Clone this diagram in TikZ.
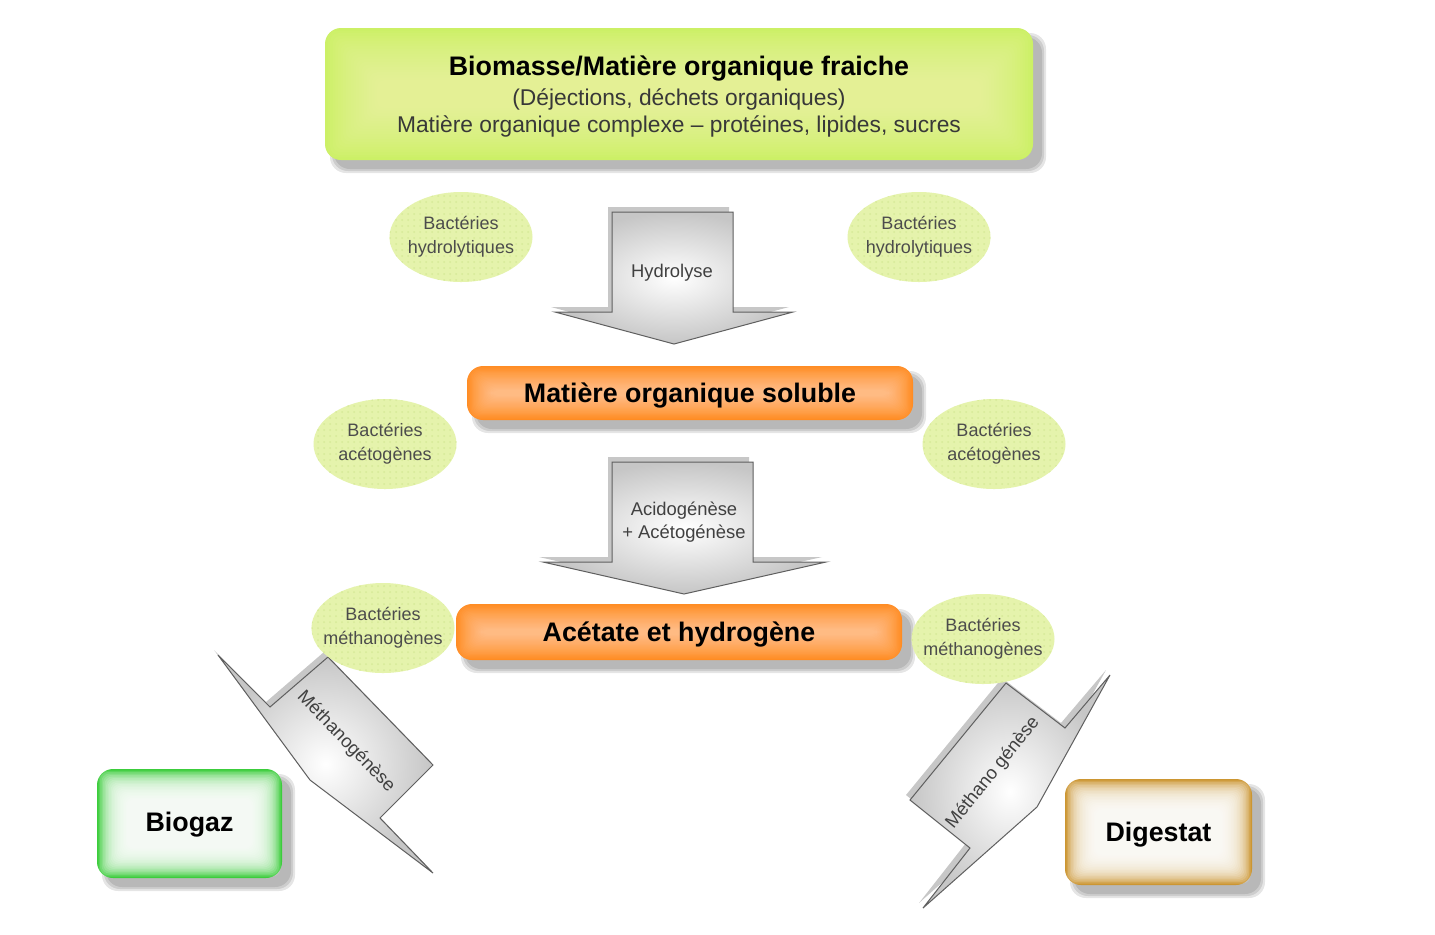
\documentclass[tikz,border=0pt]{standalone}
\usepackage{fontspec}
\setmainfont{Liberation Sans}
\usetikzlibrary{calc,shapes.geometric,patterns}
\pgfdeclarelayer{bg}
\pgfsetlayers{bg,main}
\definecolor{limeC}{RGB}{204,240,102}
\definecolor{limeG}{RGB}{250,250,185}
\definecolor{orangeC}{RGB}{255,140,35}
\definecolor{greenC}{RGB}{60,205,60}
\definecolor{brownC}{RGB}{204,150,50}
\definecolor{bactC}{RGB}{229,243,172}
\definecolor{bactD}{RGB}{214,234,152}
\definecolor{arrowE}{RGB}{95,95,95}
\newcommand\fs[2]{\fontsize{#1}{#2}\selectfont}
\newcommand\glowbox[5]{%
 \begin{pgfonlayer}{bg}
 \foreach \s in {0,2,4}{\fill[black,opacity=0.1,rounded corners=8pt] ($(#1.north west)+(9-\s,9-\s)$) rectangle ($(#1.south east)+(9+\s,9+\s)$);}
 \fill[#2,rounded corners=8pt] (#1.north west) rectangle (#1.south east);
 \foreach \i in {1,...,20}{\fill[#3,opacity=#4,rounded corners=4pt] ($(#1.north west)+(#5*\i,#5*\i)$) rectangle ($(#1.south east)-(#5*\i,#5*\i)$);}
 \end{pgfonlayer}}
\newcommand\blockarrow[1]{%
 \fill[black,opacity=0.22,shift={(-4,-5)}] #1;
 \shade[inner color=white,outer color=gray!45,draw=arrowE,line width=0.5pt] #1;}
\begin{document}
\begin{tikzpicture}[x=0.5pt,y=-0.5pt,
  boxnode/.style={rectangle,inner sep=0pt,outer sep=0pt},
  boxtxt/.style={inner sep=0pt,font=\fs{13.4}{16}\bfseries,text=black},
  bact/.style={ellipse,fill=bactC,postaction={pattern=dots,pattern color=bactD},minimum width=71.5pt,minimum height=45pt,inner sep=-12pt,align=center,font=\fs{9}{12},text=black!70},
  arrowtxt/.style={align=center,font=\fs{9.2}{11.5},text=black!75,inner sep=0pt}]
\useasboundingbox (0,0) rectangle (1435,934);
\begin{pgfonlayer}{bg}
\fill[white] (0,0) rectangle (1435,934);
\end{pgfonlayer}

% boxes
\node[boxnode,minimum width=354pt,minimum height=66pt] (biomasse) at (679,94) {};
\node[boxtxt] (t1) at (679,69) {Biomasse/Matière organique fraiche};
\node[font=\fs{11.4}{14},text=black!78,inner sep=0pt] (t2) at (679,99) {(Déjections, déchets organiques)};
\node[font=\fs{11.4}{14},text=black!78,inner sep=0pt] (t3) at (679,126) {Matière organique complexe -- protéines, lipides, sucres};
\glowbox{biomasse}{limeC}{limeG}{0.05}{2.6}

\node[boxnode,minimum width=223pt,minimum height=27pt] (soluble) at (690,393) {};
\node[boxtxt] (soluble-t) at (690,395) {Matière organique soluble};
\glowbox{soluble}{orangeC}{white}{0.032}{1.2}

\node[boxnode,minimum width=223pt,minimum height=28pt] (acetate) at (679,632) {};
\node[boxtxt] (acetate-t) at (679,634) {Acétate et hydrogène};
\glowbox{acetate}{orangeC}{white}{0.032}{1.25}

\node[boxnode,minimum width=92.5pt,minimum height=54.5pt] (biogaz) at (189.5,823.5) {};
\node[boxtxt] (biogaz-t) at (189.5,825) {Biogaz};
\glowbox{biogaz}{greenC}{white}{0.15}{1.5}

\node[boxnode,minimum width=93.5pt,minimum height=53pt] (digestat) at (1158.5,832) {};
\node[boxtxt] (digestat-t) at (1158.5,835) {Digestat};
\glowbox{digestat}{brownC}{white}{0.15}{1.5}

% block arrows
\blockarrow{(555,312) -- (612,312) -- (612,212) -- (733,212) -- (733,312) -- (793,312) -- (674,344) -- cycle}
\node[arrowtxt] (hydro) at (672,273) {Hydrolyse};

\blockarrow{(543,562) -- (612,562) -- (612,462) -- (753,462) -- (753,562) -- (826,562) -- (684,594) -- cycle}
\node[arrowtxt] (acido) at (684,522) {Acidogénèse\\+ Acétogénèse};

\blockarrow{(218,655) -- (270,707) -- (328,657) -- (433,765) -- (380,818) -- (433,873) -- (310,780) -- cycle}
\node[arrowtxt,rotate=-46] (meth1) at (346,742) {Méthanogénèse};

\blockarrow{(1110,675) -- (1065,728) -- (1006,683) -- (910,800) -- (970,848) -- (923,908) -- (1037,807) -- cycle}
\node[arrowtxt,rotate=51] (meth2) at (993,773) {Méthano génèse};

% bacteria ellipses
\node[bact] (bh1) at (461,237) {Bactéries\\hydrolytiques};
\node[bact] (bh2) at (919,237) {Bactéries\\hydrolytiques};
\node[bact] (ba1) at (385,444) {Bactéries\\acétogènes};
\node[bact] (ba2) at (994,444) {Bactéries\\acétogènes};
\node[bact] (bm1) at (383,628) {Bactéries\\méthanogènes};
\node[bact] (bm2) at (983,639) {Bactéries\\méthanogènes};
\end{tikzpicture}
\end{document}
